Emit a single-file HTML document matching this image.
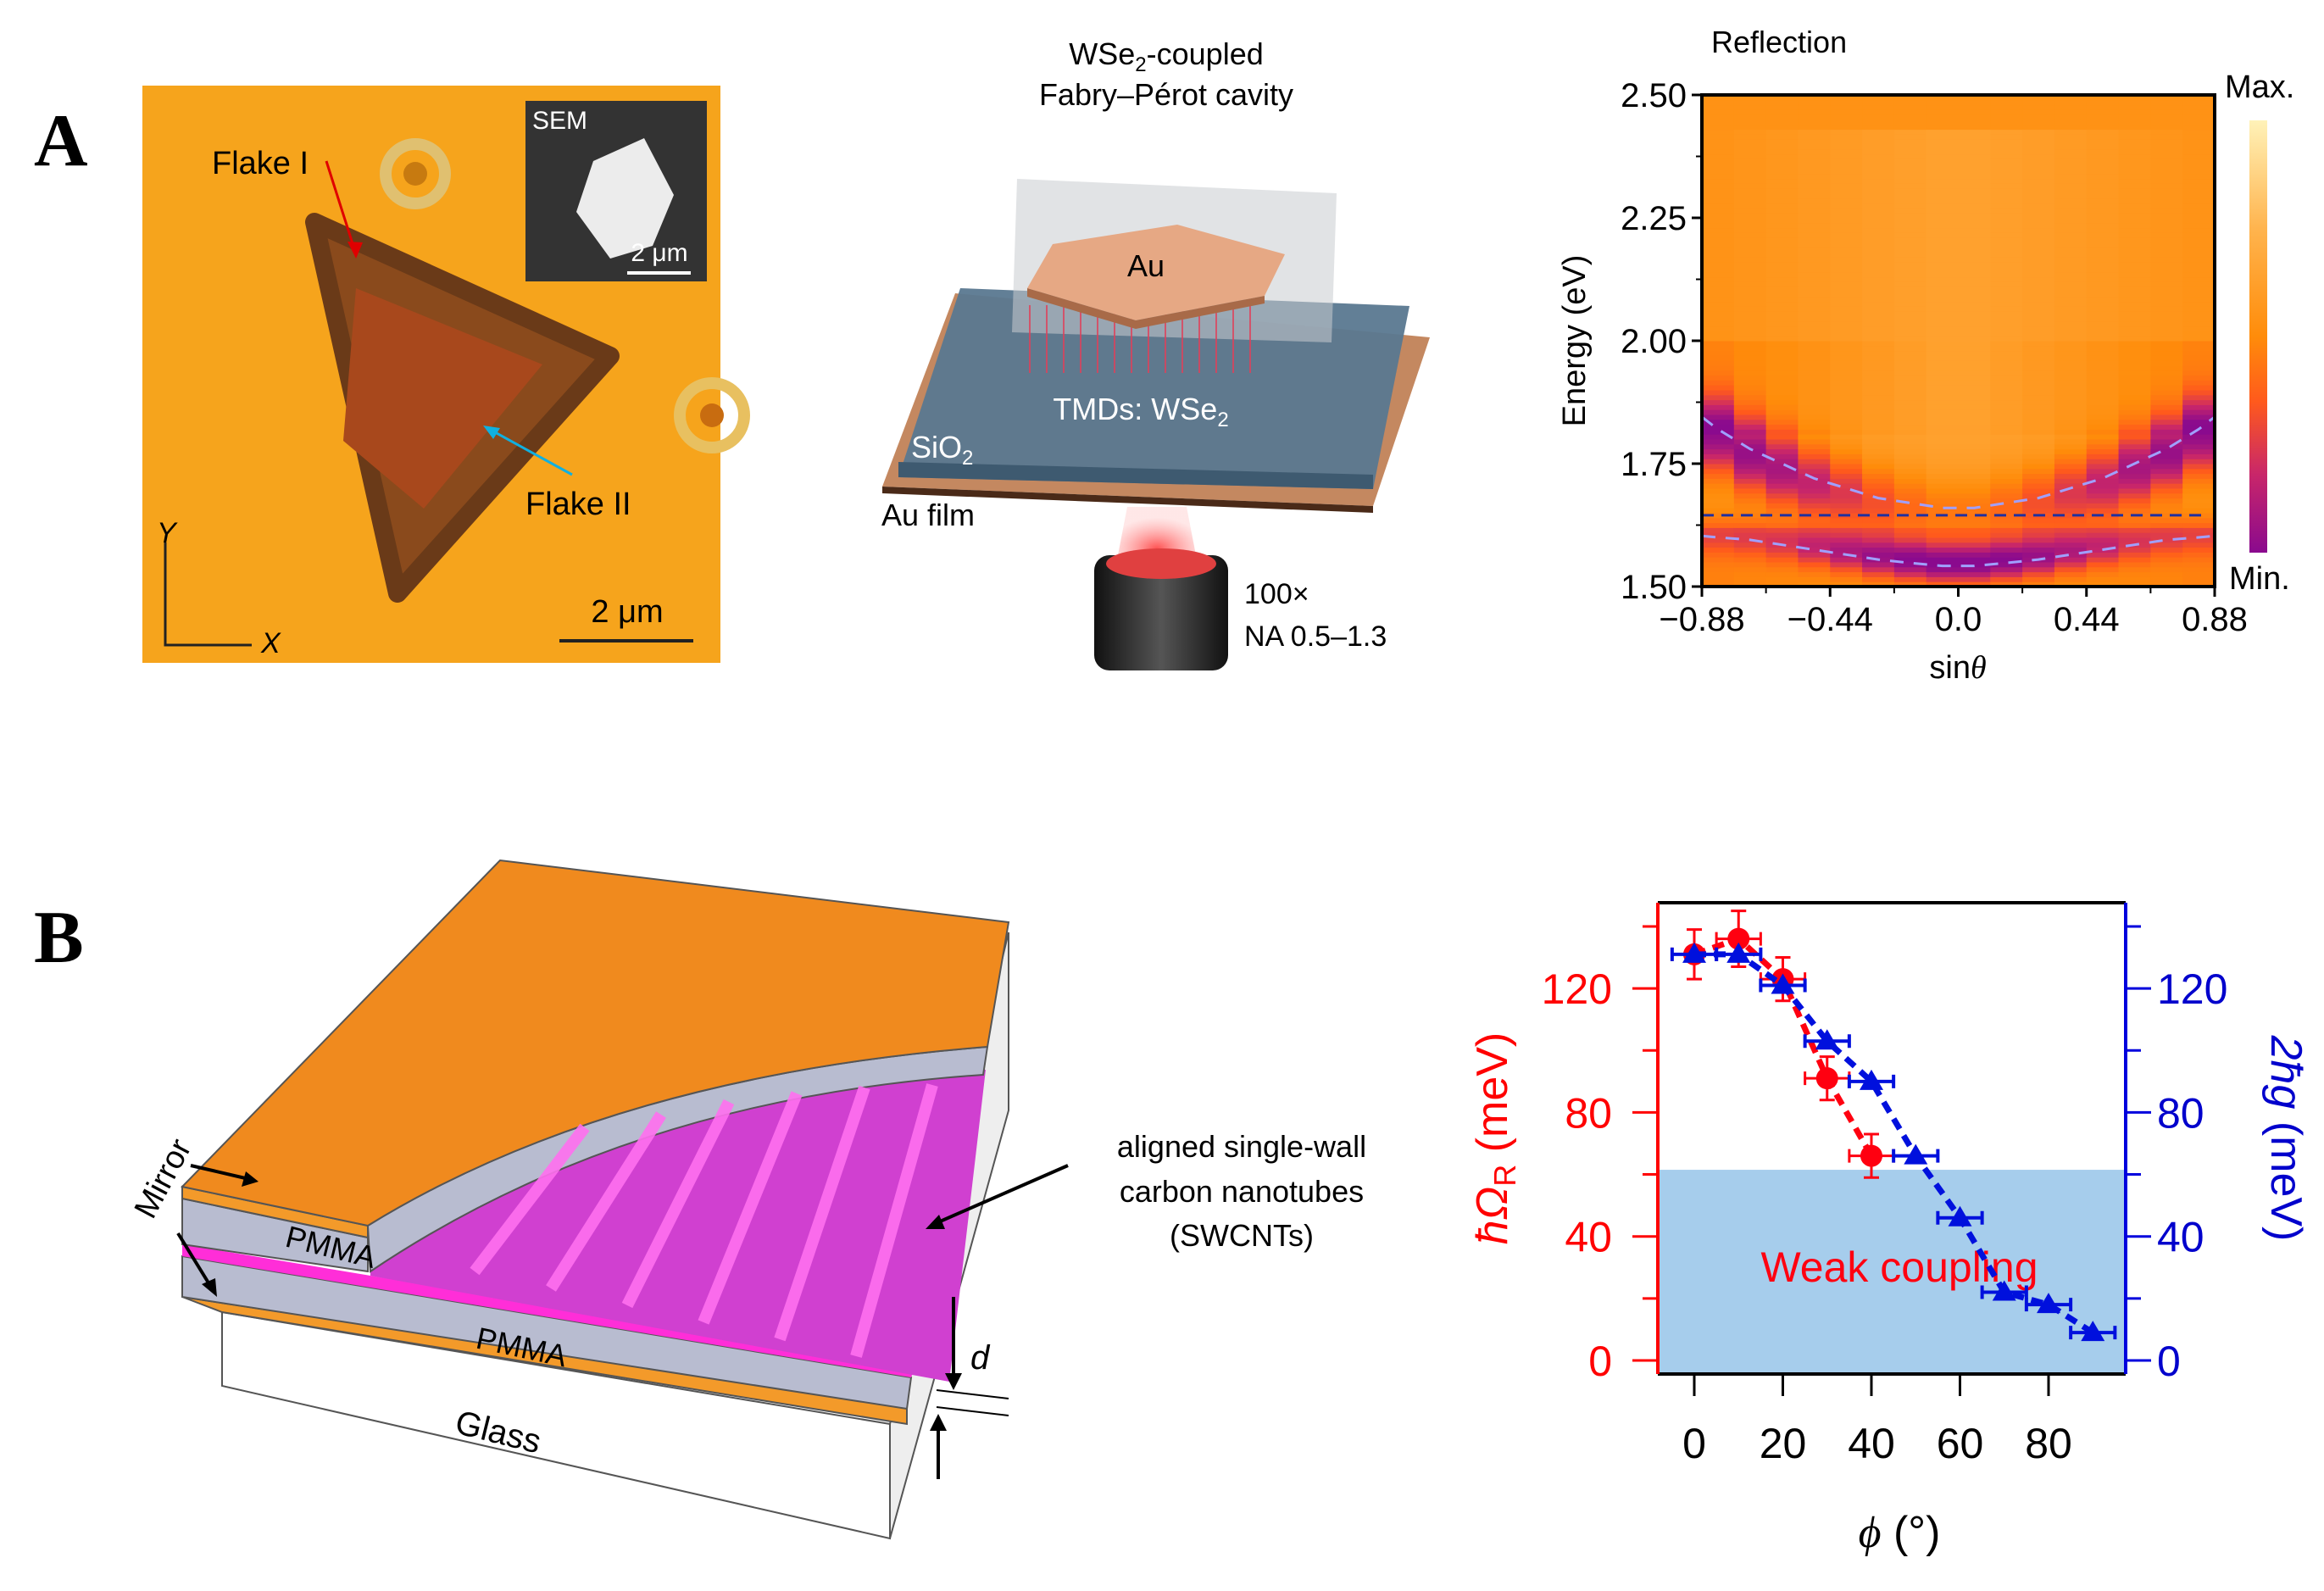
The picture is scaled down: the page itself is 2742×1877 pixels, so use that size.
<!DOCTYPE html>
<html><head><meta charset="utf-8"><style>
html,body{margin:0;padding:0;background:#fff;}
svg{display:block;font-family:"Liberation Sans",Arial,sans-serif;}
</style></head><body>
<svg id="fig" width="2742" height="1877" viewBox="0 0 2742 1877" xmlns="http://www.w3.org/2000/svg">
<defs>
<linearGradient id="cbar" x1="0" y1="0" x2="0" y2="1">
<stop offset="0" stop-color="#fff2b8"/><stop offset="0.25" stop-color="#ffb44e"/><stop offset="0.5" stop-color="#ff8c0a"/><stop offset="0.65" stop-color="#ff5a1c"/><stop offset="0.82" stop-color="#c8266a"/><stop offset="1" stop-color="#8a0a8e"/>
</linearGradient>
<radialGradient id="beam" cx="0.5" cy="0.8" r="0.6"><stop offset="0" stop-color="#ff5050"/><stop offset="1" stop-color="#ffb0b0" stop-opacity="0.3"/></radialGradient>
<linearGradient id="obj" x1="0" y1="0" x2="1" y2="0"><stop offset="0" stop-color="#111"/><stop offset="0.5" stop-color="#555"/><stop offset="1" stop-color="#111"/></linearGradient>
</defs>

<text x="40" y="195" font-family="Liberation Serif,serif" font-weight="bold" font-size="88">A</text>
<text x="40" y="1135" font-family="Liberation Serif,serif" font-weight="bold" font-size="88">B</text>

<g>
<rect x="168" y="101" width="682" height="681" fill="#f6a41c"/>
<circle cx="490" cy="205" r="35" fill="none" stroke="#e0c070" stroke-width="14"/>
<circle cx="490" cy="205" r="14" fill="#c77a10"/>
<circle cx="840" cy="490" r="38" fill="none" stroke="#e8c060" stroke-width="14"/>
<circle cx="840" cy="490" r="14" fill="#c86c10"/>
<polygon points="371,262 720,420 469,700" fill="#8a4a1c" stroke="#6a3a18" stroke-width="22" stroke-linejoin="round"/>
<polygon points="420,340 640,430 500,600 405,520" fill="#a8481c"/>
<text x="250" y="205" font-size="38">Flake I</text>
<line x1="385" y1="190" x2="420" y2="300" stroke="#e00000" stroke-width="3"/>
<polygon points="420,305 410,285 428,286" fill="#e00000"/>
<text x="620" y="607" font-size="38">Flake II</text>
<line x1="675" y1="560" x2="575" y2="505" stroke="#10b0e0" stroke-width="3"/>
<polygon points="570,502 590,505 582,518" fill="#10b0e0"/>
<polyline points="195,640 195,761 297,761" fill="none" stroke="#222" stroke-width="3"/>
<text x="185" y="640" font-size="34" font-style="italic">Y</text>
<text x="308" y="770" font-size="34" font-style="italic">X</text>
<line x1="660" y1="756" x2="818" y2="756" stroke="#222" stroke-width="4"/>
<text x="740" y="734" font-size="38" text-anchor="middle">2 μm</text>
<rect x="620" y="119" width="214" height="213" fill="#333"/>
<text x="628" y="152" font-size="30" fill="#fff">SEM</text>
<polygon points="700,190 760,163 795,230 770,290 720,305 680,250" fill="#ececec"/>
<text x="778" y="308" font-size="30" fill="#fff" text-anchor="middle">2 μm</text>
<line x1="740" y1="322" x2="815" y2="322" stroke="#fff" stroke-width="4"/>
</g>

<g>
<text x="1376" y="76" font-size="36" text-anchor="middle">WSe<tspan font-size="24" dy="8">2</tspan><tspan dy="-8">-coupled</tspan></text>
<text x="1376" y="124" font-size="36" text-anchor="middle">Fabry–Pérot cavity</text>
<polygon points="1127,346 1687,398 1620,597 1041,574" fill="#c48860"/>
<polygon points="1041,574 1620,597 1620,605 1041,582" fill="#4a2a18"/>
<polygon points="1133,340 1663,361 1620,577 1060,563" fill="#5a7890" opacity="0.95"/>
<polygon points="1060,545 1620,560 1620,577 1060,563" fill="#3e5a70"/>
<polygon points="1200,211 1577,228 1571,404 1194,392" fill="#c8ccd0" opacity="0.55"/>
<g stroke="#e0405a" stroke-width="2" opacity="0.8">
<line x1="1215" y1="360" x2="1215" y2="440"/><line x1="1235" y1="360" x2="1235" y2="440"/><line x1="1255" y1="360" x2="1255" y2="440"/><line x1="1275" y1="360" x2="1275" y2="440"/><line x1="1295" y1="360" x2="1295" y2="440"/><line x1="1315" y1="360" x2="1315" y2="440"/><line x1="1335" y1="360" x2="1335" y2="440"/><line x1="1355" y1="360" x2="1355" y2="440"/><line x1="1375" y1="360" x2="1375" y2="440"/><line x1="1395" y1="360" x2="1395" y2="440"/><line x1="1415" y1="360" x2="1415" y2="440"/><line x1="1435" y1="360" x2="1435" y2="440"/><line x1="1455" y1="360" x2="1455" y2="440"/><line x1="1475" y1="360" x2="1475" y2="440"/>
</g>
<polygon points="1212,340 1242,288 1389,265 1516,300 1492,349 1340,378" fill="#e6a884"/>
<polygon points="1212,340 1340,378 1492,349 1492,358 1340,388 1212,350" fill="#a86a48"/>
<text x="1352" y="326" font-size="36" text-anchor="middle">Au</text>
<text x="1346" y="495" font-size="36" fill="#fff" text-anchor="middle">TMDs: WSe<tspan font-size="24" dy="8">2</tspan></text>
<text x="1075" y="540" font-size="36" fill="#fff">SiO<tspan font-size="24" dy="8">2</tspan></text>
<text x="1040" y="620" font-size="36">Au film</text>
<polygon points="1330,598 1400,598 1412,660 1318,660" fill="url(#beam)"/>
<rect x="1291" y="655" width="158" height="136" rx="18" fill="url(#obj)"/>
<ellipse cx="1370" cy="665" rx="65" ry="18" fill="#e04040"/>
<text x="1468" y="712" font-size="34">100×</text>
<text x="1468" y="762" font-size="34">NA 0.5–1.3</text>
</g>

<g id="hm"></g>

<g>
<polygon points="262,1548 1050,1680 1050,1815 262,1635" fill="#fff" stroke="#555" stroke-width="2"/>
<polygon points="1050,1680 1190,1100 1190,1310 1050,1815" fill="#eee" stroke="#555" stroke-width="2"/>
<polygon points="215,1530 1070,1660 1070,1680 262,1548" fill="#f39a2a" stroke="#555" stroke-width="2"/>
<polygon points="215,1482 1075,1625 1070,1662 215,1530" fill="#b8bcd0" stroke="#555" stroke-width="2"/>
<polygon points="215,1468 1080,1612 1075,1625 215,1482" fill="#ff2ed8"/>
<path d="M437,1470 Q740,1290 1163,1262 L1120,1630 L437,1505 Z" fill="#d040d0"/>
<polygon points="215,1414 434,1460 434,1500 215,1468" fill="#b8bcd0" stroke="#555" stroke-width="2"/>
<polygon points="215,1400 434,1446 434,1460 215,1414" fill="#f39a2a" stroke="#555" stroke-width="2"/>
<path d="M434,1446 Q720,1270 1165,1235 L1160,1268 Q740,1296 437,1500 Z" fill="#b8bcd0" stroke="#555" stroke-width="2"/>
<path d="M215,1400 L590,1015 L1190,1088 L1165,1235 Q720,1270 434,1446 Z" fill="#f08a1e" stroke="#555" stroke-width="2"/>
<g stroke="#ff70f0" stroke-width="14" opacity="0.9">
<line x1="560" y1="1500" x2="690" y2="1330"/><line x1="650" y1="1520" x2="780" y2="1315"/><line x1="740" y1="1540" x2="860" y2="1300"/><line x1="830" y1="1560" x2="940" y2="1290"/><line x1="920" y1="1580" x2="1020" y2="1283"/><line x1="1010" y1="1600" x2="1100" y2="1280"/>
</g>
<text x="335" y="1470" font-size="36" transform="rotate(14 335 1470)">PMMA</text>
<text x="560" y="1590" font-size="36" transform="rotate(12 560 1590)">PMMA</text>
<text x="535" y="1690" font-size="40" transform="rotate(14 535 1690)">Glass</text>
<text x="180" y="1440" font-size="38" transform="rotate(-62 180 1440)">Mirror</text>
<line x1="225" y1="1375" x2="298" y2="1392" stroke="#000" stroke-width="4"/>
<polygon points="305,1394 285,1400 290,1382"/>
<line x1="210" y1="1455" x2="250" y2="1520" stroke="#000" stroke-width="4"/>
<polygon points="256,1530 238,1515 254,1508"/>
<text x="1465" y="1365" font-size="36" text-anchor="middle">aligned single-wall</text>
<text x="1465" y="1418" font-size="36" text-anchor="middle">carbon nanotubes</text>
<text x="1465" y="1470" font-size="36" text-anchor="middle">(SWCNTs)</text>
<line x1="1260" y1="1375" x2="1100" y2="1445" stroke="#000" stroke-width="4"/>
<polygon points="1092,1450 1108,1433 1115,1450"/>
<line x1="1105" y1="1640" x2="1190" y2="1650" stroke="#000" stroke-width="2"/>
<line x1="1105" y1="1660" x2="1190" y2="1670" stroke="#000" stroke-width="2"/>
<line x1="1125" y1="1530" x2="1125" y2="1632" stroke="#000" stroke-width="4"/>
<polygon points="1125,1640 1115,1620 1135,1620"/>
<line x1="1107" y1="1745" x2="1107" y2="1675" stroke="#000" stroke-width="4"/>
<polygon points="1107,1668 1097,1688 1117,1688"/>
<text x="1145" y="1615" font-size="40" font-style="italic">d</text>
</g>

<g id="cp"></g>
</svg>
<script>
const NS='http://www.w3.org/2000/svg';
function mk(parent,tag,attrs,txt){const e=document.createElementNS(NS,tag);for(const k in attrs)e.setAttribute(k,attrs[k]);if(txt!==undefined)e.textContent=txt;parent.appendChild(e);return e;}

/* ---------- Heatmap data ---------- */
const hmCols=[-0.825,-0.715,-0.605,-0.495,-0.385,-0.275,-0.165,-0.055,0.055,0.165,0.275,0.385,0.495,0.605,0.715,0.825];
const upperPolariton=[1.82,1.78,1.75,1.72,1.70,1.68,1.67,1.66,1.66,1.67,1.68,1.70,1.72,1.75,1.78,1.82];
const lowerPolariton=[1.60,1.595,1.585,1.575,1.565,1.555,1.548,1.542,1.542,1.548,1.555,1.565,1.575,1.585,1.595,1.60];
const upperDepth=[0.8,0.8,0.75,0.65,0.55,0.45,0.35,0.3,0.3,0.35,0.45,0.55,0.65,0.75,0.8,0.8];
const lowerDepth=[0.3,0.35,0.4,0.5,0.6,0.7,0.8,0.85,0.85,0.8,0.7,0.6,0.5,0.4,0.35,0.3];
const excitonEnergy=1.645;
const xTicksHm=[-0.88,-0.44,0.0,0.44,0.88];
const xTickLabelsHm=['−0.88','−0.44','0.0','0.44','0.88'];
const yTicksHm=[1.5,1.75,2.0,2.25,2.5];
const yTickLabelsHm=['1.50','1.75','2.00','2.25','2.50'];

const HX0=2008,HX1=2613,HY0=692,HY1=112;
const hx=v=>HX0+(v+0.88)/1.76*(HX1-HX0);
const hy=v=>HY0-(v-1.5)/1.0*(HY0-HY1);
const cmapStops=[[0,[138,10,142]],[0.18,[200,38,106]],[0.35,[255,90,28]],[0.5,[255,140,10]],[0.75,[255,180,78]],[1,[255,242,184]]];
function cmap(v){v=Math.max(0,Math.min(1,v));for(let i=1;i<cmapStops.length;i++){if(v<=cmapStops[i][0]){const a=cmapStops[i-1],b=cmapStops[i];const t=(v-a[0])/(b[0]-a[0]);return 'rgb('+a[1].map((c,j)=>Math.round(c+(b[1][j]-c)*t)).join(',')+')';}}return 'rgb(255,242,184)';}
const hm=document.getElementById('hm');
const cw=(HX1-HX0)/hmCols.length;
for(let i=0;i<hmCols.length;i++){
  const edge=Math.abs(hmCols[i])/0.88;
  for(let k=0;k<100;k++){
    const E=1.5+k*0.01;
    let v=0.64-0.1*edge;
    if(E>2.42)v-=0.1*(1-edge);
    if(E<1.62)v-=0.08;
    if(E>1.8&&E<2.0)v-=0.08*edge;
    v-=upperDepth[i]*Math.exp(-Math.pow((E+0.015-upperPolariton[i])/0.075,2))*0.65;
    v-=lowerDepth[i]*Math.exp(-Math.pow((E-lowerPolariton[i])/0.04,2))*0.65;
    const r=mk(hm,'rect',{x:HX0+i*cw,y:hy(E+0.01),width:cw+0.5,height:(HY0-HY1)*0.01+0.5,fill:cmap(v)});
    
    
  }
}
function dashCurve(vals,ends,color,name){
  const pts=[[-0.88,ends[0]]].concat(hmCols.map((c,i)=>[c,vals[i]])).concat([[0.88,ends[1]]]);
  const p=mk(hm,'polyline',{points:pts.map(q=>hx(q[0])+','+hy(q[1])).join(' '),fill:'none',stroke:color,'stroke-width':3,'stroke-dasharray':'16 12'});
  
  
}
dashCurve(upperPolariton,[1.845,1.845],'#a0a0ff','upper-polariton-curve');
dashCurve(lowerPolariton,[1.603,1.603],'#a0a0ff','lower-polariton-curve');
const exl=mk(hm,'line',{x1:HX0,x2:HX1-10,y1:hy(excitonEnergy),y2:hy(excitonEnergy),stroke:'#2030a0','stroke-width':3,'stroke-dasharray':'14 9'});


mk(hm,'rect',{x:HX0,y:HY1,width:HX1-HX0,height:HY0-HY1,fill:'none',stroke:'#000','stroke-width':4});
xTicksHm.forEach((t,i)=>{
  mk(hm,'line',{x1:hx(t),x2:hx(t),y1:HY0,y2:HY0+12,stroke:'#000','stroke-width':3});
  const tl=mk(hm,'text',{x:hx(t),y:HY0+52,'font-size':40,'text-anchor':'middle'},xTickLabelsHm[i]);
  
  
  if(i<xTicksHm.length-1)mk(hm,'line',{x1:hx(t+0.22),x2:hx(t+0.22),y1:HY0,y2:HY0+8,stroke:'#000','stroke-width':2});
});
yTicksHm.forEach((t,i)=>{
  mk(hm,'line',{x1:HX0-12,x2:HX0,y1:hy(t),y2:hy(t),stroke:'#000','stroke-width':3});
  const tl=mk(hm,'text',{x:HX0-18,y:hy(t)+14,'font-size':40,'text-anchor':'end'},yTickLabelsHm[i]);
  
  
  if(i<yTicksHm.length-1)mk(hm,'line',{x1:HX0-7,x2:HX0,y1:hy(t+0.125),y2:hy(t+0.125),stroke:'#000','stroke-width':2});
});
let t1=mk(hm,'text',{x:2310,y:800,'font-size':38,'text-anchor':'middle'},'sin');
mk(t1,'tspan',{'font-style':'italic','font-family':'Liberation Serif,serif'},'θ');


let t2=mk(hm,'text',{x:1870,y:402,'font-size':38,'text-anchor':'middle',transform:'rotate(-90 1870 402)'},'Energy (eV)');


let t3=mk(hm,'text',{x:2019,y:62,'font-size':36},'Reflection');


let cb=mk(hm,'rect',{x:2654,y:142,width:21,height:510,fill:'url(#cbar)'});


mk(hm,'text',{x:2625,y:115,'font-size':38},'Max.');
mk(hm,'text',{x:2630,y:695,'font-size':38},'Min.');

/* ---------- Coupling chart data ---------- */
const phiRabi=[0,10,20,30,40];
const rabiValues=[131,136,123,91,66];
const rabiErr=[8,9,7,7,7];
const phiG=[0,10,20,30,40,50,60,70,80,90];
const gValues=[131,131,121,103,90,66,46,22,18,9];
const phiErr=5;
const weakLimit=61.5;
const xTicksB=[0,20,40,60,80];
const yTicksB=[0,40,80,120];

const cp=document.getElementById('cp');
const L=1956,R=2508,T=1065,B=1621;
const xs=v=>1999+v*(104.5/20);
const ys=v=>1605-v*(146.3/40);
const shade=mk(cp,'rect',{x:L,y:ys(weakLimit),width:R-L,height:B-ys(weakLimit),fill:'#a6cdec'});


const wk=mk(cp,'text',{x:2241,y:1512,'font-size':50,fill:'#ff0010','text-anchor':'middle'},'Weak coupling');


mk(cp,'line',{x1:L,x2:R,y1:T,y2:T,stroke:'#000','stroke-width':4});
mk(cp,'line',{x1:L,x2:R,y1:B,y2:B,stroke:'#000','stroke-width':4});
mk(cp,'line',{x1:L,x2:L,y1:T,y2:B,stroke:'#ff0000','stroke-width':4});
mk(cp,'line',{x1:R,x2:R,y1:T,y2:B,stroke:'#0000dd','stroke-width':4});
for(let v=0;v<=140;v+=20){
  const major=v%40===0;
  mk(cp,'line',{x1:L-(major?30:18),x2:L,y1:ys(v),y2:ys(v),stroke:'#ff0000','stroke-width':3});
  mk(cp,'line',{x1:R,x2:R+(major?30:18),y1:ys(v),y2:ys(v),stroke:'#0000dd','stroke-width':3});
}
yTicksB.forEach(v=>{
  const a=mk(cp,'text',{x:1902,y:ys(v)+18,'font-size':50,fill:'#ff0000','text-anchor':'end'},String(v));
  
  
  const b=mk(cp,'text',{x:2545,y:ys(v)+18,'font-size':50,fill:'#0000cc'},String(v));
  
  
});
xTicksB.forEach(v=>{
  mk(cp,'line',{x1:xs(v),x2:xs(v),y1:B,y2:B+26,stroke:'#000','stroke-width':3});
  const a=mk(cp,'text',{x:xs(v),y:1720,'font-size':50,'text-anchor':'middle'},String(v));
  
  
});
const xt=mk(cp,'text',{x:2241,y:1825,'font-size':52,'text-anchor':'middle'});
mk(xt,'tspan',{'font-style':'italic','font-family':'Liberation Serif,serif'},'ϕ');
mk(xt,'tspan',{},' (°)');


const yl=mk(cp,'text',{x:1778,y:1343,'font-size':52,fill:'#ff0000','text-anchor':'middle',transform:'rotate(-90 1778 1343)'});
mk(yl,'tspan',{'font-style':'italic'},'ħΩ');
mk(yl,'tspan',{'font-size':36,dy:10},'R');
mk(yl,'tspan',{dy:-10},' (meV)');


const yr=mk(cp,'text',{x:2680,y:1343,'font-size':52,fill:'#0000cc','text-anchor':'middle',transform:'rotate(90 2680 1343)'});
mk(yr,'tspan',{'font-style':'italic'},'2ħg');
mk(yr,'tspan',{},' (meV)');



const rl=mk(cp,'polyline',{points:phiRabi.map((p,i)=>xs(p)+','+ys(rabiValues[i])).join(' '),fill:'none',stroke:'#ff0010','stroke-width':7,'stroke-dasharray':'14 9'});


phiRabi.forEach((p,i)=>{
  const x=xs(p),y=ys(rabiValues[i]),e=rabiErr[i]*146.3/40;
  mk(cp,'path',{d:`M${x},${y-e}V${y+e}M${x-9},${y-e}H${x+9}M${x-9},${y+e}H${x+9}M${xs(p-phiErr)},${y}H${xs(p+phiErr)}M${xs(p-phiErr)},${y-8}V${y+8}M${xs(p+phiErr)},${y-8}V${y+8}`,stroke:'#ff0010','stroke-width':3,fill:'none'});
  const c=mk(cp,'circle',{cx:x,cy:y,r:13,fill:'#ff0010'});
  
  
});
const bl=mk(cp,'polyline',{points:phiG.map((p,i)=>xs(p)+','+ys(gValues[i])).join(' '),fill:'none',stroke:'#0010dd','stroke-width':7,'stroke-dasharray':'14 9'});


phiG.forEach((p,i)=>{
  const x=xs(p),y=ys(gValues[i]);
  mk(cp,'path',{d:`M${xs(p-phiErr)},${y}H${xs(p+phiErr)}M${xs(p-phiErr)},${y-8}V${y+8}M${xs(p+phiErr)},${y-8}V${y+8}`,stroke:'#0010dd','stroke-width':4,fill:'none'});
  const t=mk(cp,'polygon',{points:`${x},${y-14} ${x-14},${y+10} ${x+14},${y+10}`,fill:'#0010dd'});
  
  
});
</script>
</body></html>
